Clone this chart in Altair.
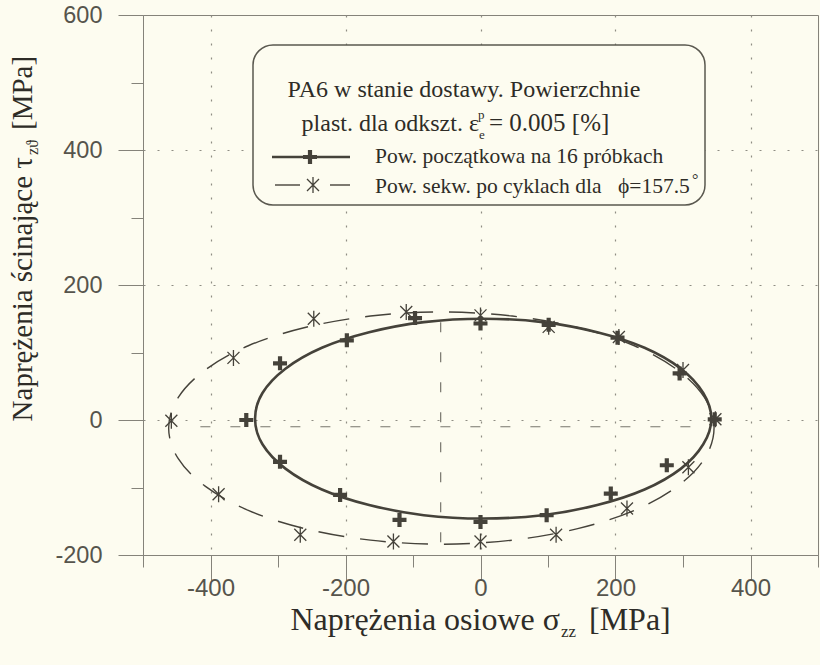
import altair as alt
import pandas as pd

# ---- measured points: initial yield surface on 16 specimens (sigma_zz, tau_z theta) [MPa]
init_sigma = [0, 101, 203, 295, 347, 276, 193, 98, 0, -120, -208, -297, -347, -297, -198, -97]
init_tau = [143, 141, 122, 69, 1, -67, -109, -141, -151, -148, -111, -62, 0, 84, 118, 151]

# ---- measured points: subsequent surface after cycling, phi = 157.5 deg
seq_sigma = [0, 101, 205, 300, 348, 308, 217, 112, 0, -129, -267, -388, -458, -366, -247, -110]
seq_tau = [155, 138, 123, 74, 1, -70, -131, -170, -180, -180, -170, -110, -1, 92, 150, 160]

# ---- fitted contours, sampled along each curve
init_fit_sigma = [342, 330, 297, 243, 173, 92, 4, -84, -165, -235, -289, -323, -334,
                  -323, -289, -235, -165, -84, 4, 92, 173, 243, 297, 330]
init_fit_tau = [2, 40, 76, 107, 130, 145, 150, 145, 130, 107, 76, 40, 2,
                -36, -72, -103, -126, -141, -146, -141, -126, -103, -72, -36]

seq_fit_sigma = [346, 332, 292, 228, 144, 47, -58, -163, -260, -344, -408, -448, -462,
                 -448, -408, -344, -260, -163, -58, 47, 144, 228, 292, 332]
seq_fit_tau = [-12, 33, 74, 110, 137, 154, 160, 154, 137, 110, 74, 33, -12,
               -57, -98, -134, -161, -178, -184, -178, -161, -134, -98, -57]

# ---- principal axes of the subsequent surface
axis_s = [-415, -59]
axis_s2 = [313, -59]
axis_t = [-10, 145]
axis_t2 = [-10, -181]

series_names = ["Pow. początkowa na 16 próbkach", "Pow. sekw. po cyklach dla"]
phi_label = "ϕ=157.5"

INK = "#45423a"
TXT = "#2e2c27"
BG = "#fdfcf0"
SERIF = "Liberation Serif"

PLUS = ("M-1,-0.3L-0.3,-0.3L-0.3,-1L0.3,-1L0.3,-0.3L1,-0.3L1,0.3L0.3,0.3"
        "L0.3,1L-0.3,1L-0.3,0.3L-1,0.3Z")
STAR = "M-0.75,-0.75L0.75,0.75M-0.75,0.75L0.75,-0.75M0,-1L0,1"

xscale = alt.Scale(domain=[-500, 500], nice=False, zero=False)
yscale = alt.Scale(domain=[-200, 600], nice=False, zero=False)

major = "datum.value % 200 === 0"

xaxis = alt.Axis(
    values=list(range(-500, 501, 100)),
    labelExpr="datum.value % 200 === 0 ? '' + datum.value : ''",
    labelFont="Liberation Sans", labelFontSize=24, labelColor="#56544c",
    labelPadding=-4, labelFlush=False, labelOverlap=False,
    tickSize={"condition": {"test": major, "value": 25}, "value": 12},
    tickColor="#85837a", tickWidth=1,
    domainColor="#85837a", domainWidth=1,
    grid=True, gridColor="#8f8d84", gridDash=[2, 12], gridWidth=1.2,
    gridOpacity={"condition": {"test": major + " && abs(datum.value) < 500", "value": 1},
                 "value": 0},
    title=None,
)
yaxis = alt.Axis(
    values=list(range(-200, 601, 100)),
    labelExpr="datum.value % 200 === 0 ? '' + datum.value : ''",
    labelFont="Liberation Sans", labelFontSize=23.5, labelColor="#56544c",
    labelPadding=16, labelFlush=False, labelOverlap=False,
    tickSize={"condition": {"test": major, "value": 25}, "value": 12},
    tickColor="#85837a", tickWidth=1,
    domainColor="#85837a", domainWidth=1,
    grid=True, gridColor="#8f8d84", gridDash=[2, 12], gridWidth=1.2,
    gridOpacity={"condition": {"test": major + " && datum.value > -200 && datum.value < 600",
                               "value": 1}, "value": 0},
    title=None,
)

X = alt.X("s:Q", scale=xscale, axis=xaxis)
Y = alt.Y("t:Q", scale=yscale, axis=yaxis)

init_fit = pd.DataFrame({"s": init_fit_sigma, "t": init_fit_tau, "i": range(len(init_fit_tau))})
seq_fit = pd.DataFrame({"s": seq_fit_sigma, "t": seq_fit_tau, "i": range(len(seq_fit_tau))})
init_pts = pd.DataFrame({"s": init_sigma, "t": init_tau})
seq_pts = pd.DataFrame({"s": seq_sigma, "t": seq_tau})
axes_df = pd.DataFrame({"s": axis_s, "s2": axis_s2, "t": axis_t, "t2": axis_t2})

center_axes = alt.Chart(axes_df).mark_rule(
    color="#77756c", strokeWidth=1.2, strokeDash=[10, 20]
).encode(x=X, x2="s2:Q", y=Y, y2="t2:Q")

seq_curve = alt.Chart(seq_fit).mark_line(
    color=INK, strokeWidth=1.4, strokeDash=[26, 16], interpolate="cardinal-closed"
).encode(x=X, y=Y, order="i:Q")

init_curve = alt.Chart(init_fit).mark_line(
    color=INK, strokeWidth=2.6, interpolate="cardinal-closed"
).encode(x=X, y=Y, order="i:Q")

seq_marks = alt.Chart(seq_pts).mark_point(
    shape=STAR, size=256, filled=False, color=INK, strokeWidth=1.3, opacity=1
).encode(x=X, y=Y)

init_marks = alt.Chart(init_pts).mark_point(
    shape=PLUS, size=196, filled=True, color=INK, opacity=1
).encode(x=X, y=Y)

# ---- legend box and its content (pixel positions inside the plot area)
one = pd.DataFrame({"k": [0]})
base = alt.Chart(one)

box = base.mark_rect(
    cornerRadius=20, fill=BG, stroke="#5a584f", strokeWidth=1.5
).encode(x=alt.value(110), x2=alt.value(562), y=alt.value(30), y2=alt.value(190))


def txt(s, x, y, size, align="left", angle=0, weight="normal"):
    return base.mark_text(
        text=s, font=SERIF, fontSize=size, color=TXT, align=align,
        baseline="alphabetic", angle=angle, fontWeight=weight
    ).encode(x=alt.value(x), y=alt.value(y))


leg_title1 = txt("PA6 w stanie dostawy. Powierzchnie", 321, 82, 24, align="center")
leg_title2a = txt("plast. dla odkszt.  ε", 336, 116, 24, align="right")
leg_title2p = txt("p", 335, 104, 13)
leg_title2e = txt("e", 336, 124, 13)
leg_title2b = txt("= 0.005  [%]", 346, 116, 25)

leg_lab1 = txt(series_names[0], 232, 148, 21.5)
leg_lab2 = txt(series_names[1], 232, 178, 21.5)
leg_lab2phi = txt(phi_label, 475, 178, 21.5)
leg_lab2deg = txt("°", 549, 170, 16)

leg_line1 = base.mark_rule(color=INK, strokeWidth=2.6).encode(
    x=alt.value(129), x2=alt.value(207), y=alt.value(142))
leg_plus = base.mark_point(shape=PLUS, size=196, filled=True, color=INK, opacity=1).encode(
    x=alt.value(167), y=alt.value(142))
leg_line2a = base.mark_rule(color=INK, strokeWidth=1.4).encode(
    x=alt.value(132), x2=alt.value(157), y=alt.value(170))
leg_line2b = base.mark_rule(color=INK, strokeWidth=1.4).encode(
    x=alt.value(187), x2=alt.value(207), y=alt.value(170))
leg_star = base.mark_point(shape=STAR, size=256, filled=False, color=INK,
                           strokeWidth=1.3, opacity=1).encode(
    x=alt.value(170), y=alt.value(170))

# ---- axis titles with sub/superscripts
xt_main = txt("Naprężenia osiowe  σ", 417, 615, 32, align="right")
xt_sub = txt("zz", 418, 622, 17)
xt_unit = txt("[MPa]", 446, 615, 32)

yt_main = txt("Naprężenia ścinające  τ", -111, 142, 29, align="right", angle=270)
yt_sub = txt("zϑ", -105, 140, 16, angle=270)
yt_unit = txt("[MPa]", -111, 115, 29, angle=270)

chart = alt.layer(
    center_axes, seq_curve, init_curve, seq_marks, init_marks,
    box, leg_title1, leg_title2a, leg_title2p, leg_title2e, leg_title2b,
    leg_lab1, leg_lab2, leg_lab2phi, leg_lab2deg,
    leg_line1, leg_plus, leg_line2a, leg_line2b, leg_star,
    xt_main, xt_sub, xt_unit, yt_main, yt_sub, yt_unit,
).properties(
    width=675, height=540,
    padding={"left": 143, "top": 15, "right": 2, "bottom": 110},
    autosize=alt.AutoSizeParams(type="none"),
    background=BG,
).configure_view(stroke="#85837a", strokeWidth=1)

chart.save("out.html", embed_options={"renderer": "svg", "actions": False})
